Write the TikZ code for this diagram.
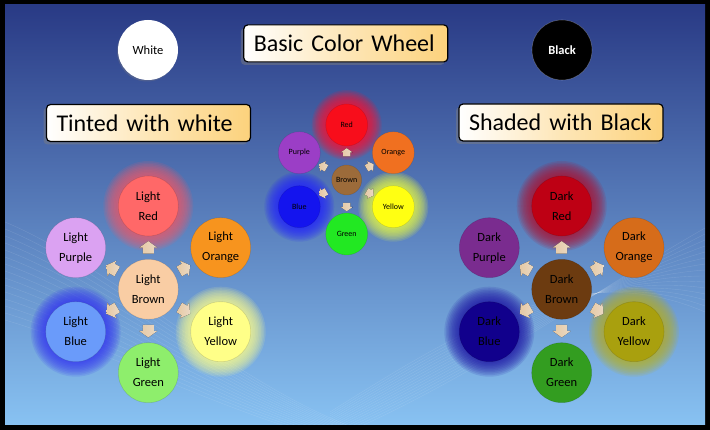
\documentclass[tikz,border=0pt]{standalone}
\usepackage{fontspec}
\setmainfont{Carlito}
\usetikzlibrary{shadows,calc,decorations.markings}
\definecolor{bgtop}{HTML}{293A85}
\definecolor{bgmid}{HTML}{4A77C1}
\definecolor{bgbot}{HTML}{88C2F2}
\definecolor{titleR}{HTML}{FCD27C}
\definecolor{peach}{HTML}{F8D8B0}
\definecolor{peachL}{HTML}{FCE9D2}
% basic
\definecolor{cRed}{HTML}{F80D1B}
\definecolor{cOrange}{HTML}{F07020}
\definecolor{cYellow}{HTML}{FFFF12}
\definecolor{cGreen}{HTML}{22E822}
\definecolor{cBlue}{HTML}{1414EE}
\definecolor{cPurple}{HTML}{9B3EC6}
\definecolor{cBrown}{HTML}{9C6B3A}
% light
\definecolor{lRed}{HTML}{FF6868}
\definecolor{lOrange}{HTML}{F7941E}
\definecolor{lYellow}{HTML}{FFFF88}
\definecolor{lGreen}{HTML}{8EEE6C}
\definecolor{lBlue}{HTML}{6A9BFA}
\definecolor{lPurple}{HTML}{DBA2F2}
\definecolor{lBrown}{HTML}{F9CDA4}
% dark
\definecolor{dRed}{HTML}{BE0014}
\definecolor{dOrange}{HTML}{D66C1A}
\definecolor{dYellow}{HTML}{A9A00E}
\definecolor{dGreen}{HTML}{339D20}
\definecolor{dBlue}{HTML}{11008C}
\definecolor{dPurple}{HTML}{7A2C8F}
\definecolor{dBrown}{HTML}{6C3B10}
% glows
\definecolor{gRed}{HTML}{FF1030}
\definecolor{gBlue}{HTML}{2222FF}
\definecolor{gYellow}{HTML}{EEFF40}
\definecolor{glRed}{HTML}{EE5A6A}
\definecolor{glBlue}{HTML}{3333F2}
\definecolor{glYellow}{HTML}{FFFF8C}
\definecolor{gdRed}{HTML}{B0102E}
\definecolor{gdBlue}{HTML}{1C12A4}
\definecolor{gdYellow}{HTML}{B6AE22}
\newcommand\myglow[4]{% center, radius, extra, colour
  \foreach \k in {0,...,9}{\fill[#4, opacity=0.13] (#1) circle ({#2+#3-#3*\k/10});}}
\tikzset{
  bigwheel/.style={circle, minimum size=60pt, inner sep=0pt, align=center,
    font=\fontsize{12.5}{20}\selectfont, text=black, fill=#1,
    draw=black, draw opacity=0.12, line width=0.6pt},
  smallwheel/.style={circle, minimum size=42pt, inner sep=0pt, align=center,
    font=\fontsize{8}{10}\selectfont, text=black, fill=#1,
    draw=black, draw opacity=0.12, line width=0.5pt},
  bigarrow/.style={decoration={markings, mark=at position 0.5 with {
      \fill[left color=peach, right color=peachL, fill opacity=0.93]
        (-6,-5.5) -- (0,-5.5) -- (0,-9) -- (6.5,0) -- (0,9) -- (0,5.5) -- (-6,5.5) -- cycle;}},
    postaction=decorate},
  smallarrow/.style={decoration={markings, mark=at position 0.5 with {
      \fill[left color=peach, right color=peachL, fill opacity=0.93]
        (-4,-3.6) -- (0,-3.6) -- (0,-6) -- (4.3,0) -- (0,6) -- (0,3.6) -- (-4,3.6) -- cycle;}},
    postaction=decorate},
  titlebox/.style={rectangle, rounded corners=4pt, draw=black, line width=1.2pt,
    left color=white, right color=titleR, middle color=titleR!55!white,
    font=\fontsize{24}{28}\selectfont, text=black, minimum height=37pt,
    text width=184pt, inner xsep=10pt, align=left,
    drop shadow={shadow xshift=-3pt, shadow yshift=-3pt, opacity=0.45}},
  mesh/.style={white, line width=0.4pt, opacity=0.12}
}
\begin{document}
\begin{tikzpicture}[x=1pt,y=-1pt]
\useasboundingbox (0,0) rectangle (710,430);
\fill[black] (0,0) rectangle (710,430);
\shade[top color=bgtop, middle color=bgmid, bottom color=bgbot] (5,5) rectangle (705,425);
% faint background mesh
\begin{scope}
\clip (5,5) rectangle (705,425);
\foreach \i in {0,...,14}{
  \draw[mesh] (5,{222+7*\i}) .. controls (120,{270+6*\i}) and (250,{400+2*\i}) .. (380,{436+\i});
  \draw[mesh] (330,{440-2*\i}) .. controls (470,{380-4*\i}) and (580,{300-3*\i}) .. (705,{228+6*\i});
}
\end{scope}
% positions
\coordinate (pR) at (346.7,125);   \coordinate (pO) at (393.3,152.7);
\coordinate (pY) at (393.3,206.7); \coordinate (pG) at (346.7,234);
\coordinate (pBl) at (299.3,206.7);\coordinate (pP) at (299.3,152.7);
\coordinate (pBr) at (346.7,180);
\coordinate (qR) at (148.3,206);   \coordinate (qO) at (220.7,247.7);
\coordinate (qY) at (220.7,331.7); \coordinate (qG) at (148.3,372.7);
\coordinate (qBl) at (75.7,331.7); \coordinate (qP) at (75.7,247.7);
\coordinate (qBr) at (148.3,289.3);
\coordinate (rR) at (561.7,206);   \coordinate (rO) at (634,247.7);
\coordinate (rY) at (634,331.7);   \coordinate (rG) at (561.7,372.7);
\coordinate (rBl) at (489.3,331.7);\coordinate (rP) at (489.3,247.7);
\coordinate (rBr) at (561.7,289.3);
% glows
\myglow{pR}{21}{14}{gRed}
\myglow{pBl}{21}{14}{gBlue}
\myglow{pY}{21}{14}{gYellow}
\myglow{qR}{30}{15}{glRed}
\myglow{qBl}{30}{15}{glBlue}
\myglow{qY}{30}{15}{glYellow}
\myglow{rR}{30}{15}{gdRed}
\myglow{rBl}{30}{15}{gdBlue}
\myglow{rY}{30}{15}{gdYellow}
% titles
\node[titlebox] (tBasic) at (345.8,43.4) {Basic Color Wheel};
\node[titlebox] (tTint) at (148.5,123) {Tinted with white};
\node[titlebox] (tShade) at (561,122.5) {Shaded with Black};
% white / black
\node[circle, minimum size=60pt, inner sep=0pt, fill=white, font=\fontsize{12.5}{15}\selectfont,
  drop shadow={shadow xshift=-1pt, shadow yshift=-1.5pt, opacity=0.3}] (white) at (148,50) {White};
\node[circle, minimum size=60pt, inner sep=0pt, fill=black, draw=white, draw opacity=0.25, line width=0.6pt,
  text=white, font=\fontsize{12.5}{15}\selectfont\bfseries] (black) at (562,50) {Black};
% basic wheel
\node[smallwheel=cBrown, minimum size=30pt] (Br) at (pBr) {Brown};
\node[smallwheel=cRed] (R) at (pR) {Red};
\node[smallwheel=cOrange] (O) at (pO) {Orange};
\node[smallwheel=cYellow] (Y) at (pY) {Yellow};
\node[smallwheel=cGreen] (G) at (pG) {Green};
\node[smallwheel=cBlue] (Bl) at (pBl) {Blue};
\node[smallwheel=cPurple] (P) at (pP) {Purple};
\foreach \t in {R,O,Y,G,Bl,P}{\path[smallarrow] (Br.center) -- (\t.center);}
% light wheel
\node[bigwheel=lBrown] (LBr) at (qBr) {Light\\Brown};
\node[bigwheel=lRed] (LR) at (qR) {Light\\Red};
\node[bigwheel=lOrange] (LO) at (qO) {Light\\Orange};
\node[bigwheel=lYellow] (LY) at (qY) {Light\\Yellow};
\node[bigwheel=lGreen] (LG) at (qG) {Light\\Green};
\node[bigwheel=lBlue] (LBl) at (qBl) {Light\\Blue};
\node[bigwheel=lPurple] (LP) at (qP) {Light\\Purple};
\foreach \t in {LR,LO,LY,LG,LBl,LP}{\path[bigarrow] (LBr) -- (\t);}
% dark wheel
\node[bigwheel=dBrown] (DBr) at (rBr) {Dark\\Brown};
\node[bigwheel=dRed] (DR) at (rR) {Dark\\Red};
\node[bigwheel=dOrange] (DO) at (rO) {Dark\\Orange};
\node[bigwheel=dYellow] (DY) at (rY) {Dark\\Yellow};
\node[bigwheel=dGreen] (DG) at (rG) {Dark\\Green};
\node[bigwheel=dBlue] (DBl) at (rBl) {Dark\\Blue};
\node[bigwheel=dPurple] (DP) at (rP) {Dark\\Purple};
\foreach \t in {DR,DO,DY,DG,DBl,DP}{\path[bigarrow] (DBr) -- (\t);}
\end{tikzpicture}
\end{document}
